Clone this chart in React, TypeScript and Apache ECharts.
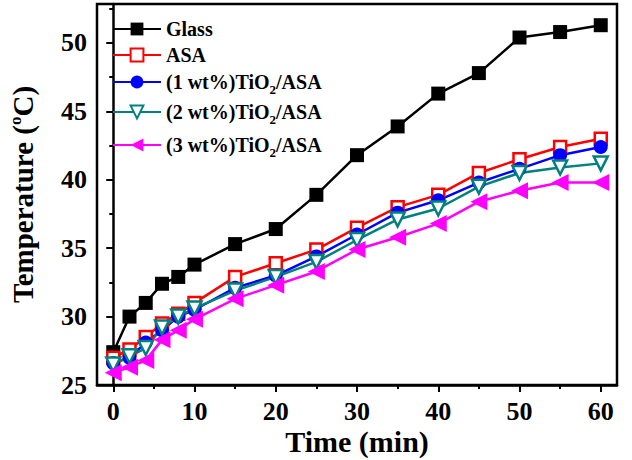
import React, { useEffect, useRef } from "react";
import * as echarts from "echarts";

const times = [0, 2, 4, 6, 8, 10, 15, 20, 25, 30, 35, 40, 45, 50, 55, 60];
const glass = [27.4, 30, 31, 32.4, 32.9, 33.8, 35.3, 36.4, 38.9, 41.8, 43.9, 46.3, 47.8, 50.4, 50.8, 51.3];
const asa = [27, 27.6, 28.5, 29.5, 30.2, 31, 32.9, 33.9, 34.9, 36.5, 38, 38.9, 40.5, 41.5, 42.4, 43];
const tio1 = [26.6, 27, 28.1, 29, 30, 30.5, 32.1, 33, 34.4, 36, 37.6, 38.5, 39.8, 40.8, 41.8, 42.4];
const tio2 = [26.5, 27.1, 27.7, 29.2, 30, 30.6, 31.9, 32.9, 34, 35.6, 37.1, 37.9, 39.5, 40.5, 40.9, 41.2];
const tio3 = [25.9, 26.3, 26.8, 28.3, 29, 29.8, 31.3, 32.3, 33.3, 34.9, 35.8, 36.8, 38.4, 39.2, 39.8, 39.8];

const seriesNames = ["Glass", "ASA", "(1 wt%)TiO2/ASA", "(2 wt%)TiO2/ASA", "(3 wt%)TiO2/ASA"];
const xTickValues = [0, 10, 20, 30, 40, 50, 60];

const FONT = "Liberation Serif";

export default function App() {
  const ref = useRef<HTMLDivElement>(null);
  useEffect(() => {
    if (!ref.current) return;
    const chart = echarts.init(ref.current, undefined, { renderer: "svg" });
    const pair = (ys: number[]) => times.map((t, i) => [t, ys[i]]);
    const mk = (name: string, ys: number[], color: string, symbol: string, size: number, fill: string, rotate = 0) => ({
      name,
      type: "line",
      data: pair(ys),
      symbol,
      symbolSize: size,
      symbolRotate: rotate,
      showAllSymbol: true,
      lineStyle: { color, width: 2.5 },
      itemStyle: { color: fill, borderColor: color, borderWidth: fill === "#fff" ? 2.5 : 0 },
      z: 2,
    });
    const legendRowCenters = [27, 53, 80, 110, 143];
    const legendTextStyle = {
      fontFamily: FONT,
      fontWeight: "bold",
      fontSize: 20,
      color: "#000",
      rich: {
        a: { fontFamily: FONT, fontWeight: "bold", fontSize: 20, color: "#000" },
        s: { fontFamily: FONT, fontWeight: "bold", fontSize: 13, color: "#000", padding: [14, 0, 0, 0] },
      },
    };
    const legends = seriesNames.map((n, i) => ({
      left: 112,
      top: legendRowCenters[i] - 8,
      padding: 0,
      orient: "vertical",
      itemWidth: 48,
      itemHeight: 16,
      data: [n],
      formatter: (s: string) => {
        const m = s.match(/^(.*TiO)2(.*)$/);
        if (m) return `{a|${m[1]}}{s|2}{a|${m[2]}}`;
        return `{a|${s}}`;
      },
      textStyle: legendTextStyle,
    }));
    chart.setOption({
      animation: false,
      backgroundColor: "#fff",
      grid: {
        left: 97, right: 15, top: 4, bottom: 75,
        outerBoundsMode: "none",
        containLabel: false,
        show: true, borderColor: "#000", borderWidth: 2.5, backgroundColor: "transparent",
      },
      legend: legends,
      xAxis: {
        type: "value",
        min: -2,
        max: 62,
        name: "Time (min)",
        nameLocation: "middle",
        nameGap: 41,
        nameMoveOverlap: false,
        nameTextStyle: { fontFamily: FONT, fontWeight: "bold", fontSize: 30, lineHeight: 30, color: "#000" },
        axisLine: { show: true, onZero: false, lineStyle: { color: "#000", width: 2.5 } },
        axisTick: { show: true, length: 7, lineStyle: { color: "#000", width: 2 }, customValues: xTickValues },
        minorTick: { show: true, splitNumber: 2, length: 4, lineStyle: { color: "#000", width: 2 } },
        axisLabel: {
          fontFamily: FONT, fontWeight: "bold", fontSize: 26, lineHeight: 26, color: "#000", margin: 13,
          customValues: xTickValues,
        },
        splitLine: { show: false },
      },
      yAxis: {
        type: "value",
        min: 25,
        max: 52.85,
        interval: 5,
        name: "{a|Temperature (}{s|o}{a|C)}",
        nameLocation: "middle",
        nameGap: 59,
        nameMoveOverlap: false,
        nameTextStyle: {
          fontFamily: FONT, fontWeight: "bold", fontSize: 29, color: "#000",
          rich: {
            a: { fontFamily: FONT, fontWeight: "bold", fontSize: 29, color: "#000" },
            s: { fontFamily: FONT, fontWeight: "bold", fontSize: 17, color: "#000", padding: [0, 0, 14, 0] },
          },
        },
        axisLine: { show: true, lineStyle: { color: "#000", width: 2.5 } },
        axisTick: { show: true, length: 7, lineStyle: { color: "#000", width: 2 } },
        minorTick: { show: true, splitNumber: 2, length: 4, lineStyle: { color: "#000", width: 2 } },
        axisLabel: {
          fontFamily: FONT, fontWeight: "bold", fontSize: 26, color: "#000", margin: 10,
          showMaxLabel: false,
          formatter: (v: number) => (v % 5 === 0 ? String(v) : ""),
        },
        splitLine: { show: false },
      },
      series: [
        mk(seriesNames[0], glass, "#000", "rect", 14, "#000"),
        mk(seriesNames[1], asa, "#ff0000", "rect", 12, "#fff"),
        mk(seriesNames[2], tio1, "#0000ff", "circle", 14, "#0000ff"),
        mk(seriesNames[3], tio2, "#008080", "triangle", 14, "#fff", 180),
        mk(seriesNames[4], tio3, "#ff00ff", "triangle", 17, "#ff00ff", 90),
      ],
    });
    return () => chart.dispose();
  }, []);
  return <div ref={ref} style={{ position: "absolute", left: 0, top: 0, width: 632, height: 460 }} />;
}
